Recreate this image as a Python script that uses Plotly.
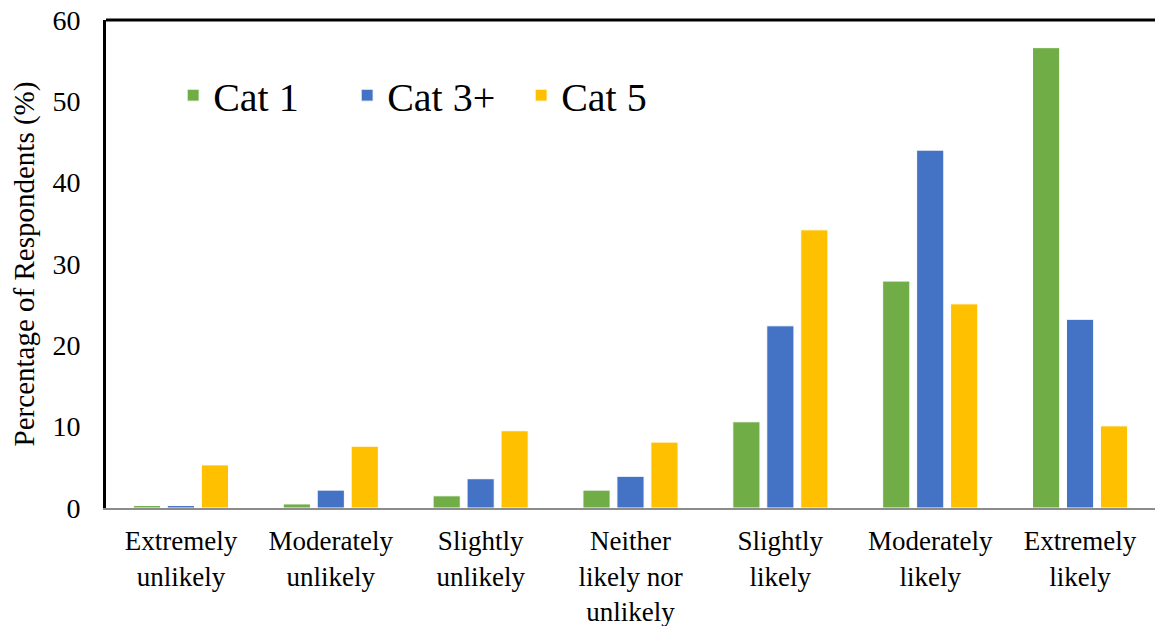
import plotly.graph_objects as go

categories = [
    "Extremely<br>unlikely",
    "Moderately<br>unlikely",
    "Slightly<br>unlikely",
    "Neither<br>likely nor<br>unlikely",
    "Slightly<br>likely",
    "Moderately<br>likely",
    "Extremely<br>likely",
]
cat1 = [0.3, 0.5, 1.5, 2.2, 10.6, 27.9, 56.6]
cat3 = [0.3, 2.2, 3.6, 3.9, 22.4, 44.0, 23.2]
cat5 = [5.3, 7.6, 9.5, 8.1, 34.2, 25.1, 10.1]
series_names = ["Cat 1", "Cat 3+", "Cat 5"]
colors = ["#70AD47", "#4472C4", "#FFC000"]

FONT = "Liberation Serif"

fig = go.Figure()
for name, vals, col in zip(series_names, [cat1, cat3, cat5], colors):
    fig.add_trace(go.Bar(
        x=categories, y=vals, name=name,
        marker=dict(color=col, line=dict(color="white", width=1)),
    ))

fig.update_layout(
    width=1155, height=626,
    margin=dict(l=106, r=0, t=20, b=118, autoexpand=False),
    paper_bgcolor="white", plot_bgcolor="white",
    font=dict(family=FONT, size=28, color="black"),
    barmode="group", bargap=0.32, bargroupgap=0.2,
    showlegend=True,
    legend=dict(
        orientation="h", x=0.064, y=0.846, xanchor="left", yanchor="middle",
        font=dict(family=FONT, size=40, color="black"),
        bgcolor="rgba(0,0,0,0)", itemwidth=30,
        entrywidthmode="pixels", entrywidth=129,
    ),
    xaxis=dict(
        showgrid=False, showline=True, linecolor="#8c8c8c", linewidth=2,
        ticks="", tickfont=dict(family=FONT, size=27), ticklabelstandoff=8,
        automargin=False, ticklabeloverflow="allow",
    ),
    yaxis=dict(
        range=[0, 60], dtick=10, showgrid=False, zeroline=False,
        showline=True, linecolor="black", linewidth=3,
        ticks="", tickfont=dict(family=FONT, size=28), ticklabelstandoff=17,
        ticklabeloverflow="allow",
        title=dict(text="Percentage of Respondents (%)", font=dict(family=FONT, size=29), standoff=10),
        automargin=False,
    ),
    shapes=[dict(type="line", xref="paper", yref="paper", x0=0, x1=1, y0=1, y1=1,
                 line=dict(color="black", width=3))],
)

fig.write_html("out.html", config={"displayModeBar": False},
               post_script="document.body.style.margin='0';")
